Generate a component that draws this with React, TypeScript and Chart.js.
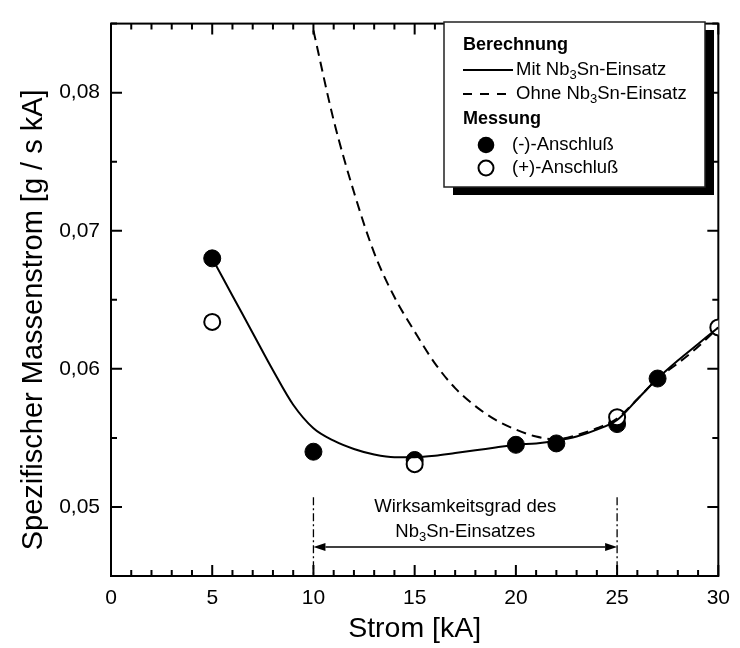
import React, { useEffect, useRef } from 'react';
import { Chart, registerables } from 'chart.js';

Chart.register(...registerables);

// ---------- data ----------
const X_MIT = [5, 6, 7, 8, 9, 10, 11, 12, 13, 14, 15, 16, 17, 18, 19, 20, 21, 22, 23, 24, 25, 26, 27, 28, 29, 30];
const Y_MIT = [0.068, 0.0653, 0.0626, 0.0599, 0.0574, 0.0557, 0.0548, 0.0542, 0.0538, 0.0536, 0.0536, 0.0537, 0.0539, 0.0541, 0.0543, 0.0545, 0.0546, 0.0548, 0.0551, 0.0556, 0.0563, 0.0578, 0.0593, 0.0606, 0.0618, 0.063];

const X_OHNE = [10, 11, 12, 13, 14, 15, 16, 17, 18, 19, 20, 21, 22, 23, 24, 25, 26, 27, 28, 29, 30];
const Y_OHNE = [0.0845, 0.078, 0.0728, 0.0684, 0.0652, 0.0627, 0.0604, 0.0586, 0.0573, 0.0563, 0.0556, 0.0551, 0.0549, 0.0552, 0.0557, 0.0564, 0.0578, 0.0593, 0.0604, 0.0616, 0.063];

const X_NEG = [5, 10, 15, 20, 22, 25, 27];
const Y_NEG = [0.068, 0.054, 0.0534, 0.0545, 0.0546, 0.056, 0.0593];

const X_POS = [5, 15, 25, 30];
const Y_POS = [0.0634, 0.0531, 0.0565, 0.063];

const X_TICKS = [0, 5, 10, 15, 20, 25, 30];
const Y_TICKS = [0.05, 0.06, 0.07, 0.08];
const X_MINOR_STEP = 1;
const Y_MINOR_STEP = 0.005;
const X_RANGE = [0, 30];
const Y_RANGE = [0.045, 0.085];

const X_TITLE = 'Strom [kA]';
const Y_TITLE = 'Spezifischer Massenstrom [g / s kA]';

// annotation "Wirksamkeitsgrad" range
const EFF_RANGE = [10, 25];
const EFF_LINE_TOP = 0.0507;
const EFF_ARROW_Y = 0.0471;
const EFF_TEXT1_Y = 0.05;
const EFF_TEXT2_Y = 0.0482;

const FONT = '"Liberation Sans", Arial, Helvetica, sans-serif';

type Part = { t: string; sub?: boolean };

function drawRich(ctx: CanvasRenderingContext2D, parts: Part[], x: number, y: number, align: 'left' | 'center', size: number, bold = false) {
  const main = `${bold ? 'bold ' : ''}${size}px ${FONT}`;
  const sub = `${bold ? 'bold ' : ''}${Math.round(size * 0.68)}px ${FONT}`;
  let total = 0;
  const widths = parts.map((p) => {
    ctx.font = p.sub ? sub : main;
    const w = ctx.measureText(p.t).width;
    total += w;
    return w;
  });
  let cx = align === 'center' ? x - total / 2 : x;
  ctx.textAlign = 'left';
  ctx.textBaseline = 'middle';
  ctx.fillStyle = '#000';
  parts.forEach((p, i) => {
    ctx.font = p.sub ? sub : main;
    ctx.fillText(p.t, cx, p.sub ? y + size * 0.32 : y);
    cx += widths[i];
  });
}

const framePlugin = {
  id: 'frameTicks',
  beforeDatasetsDraw(chart: any) {
    const { ctx, chartArea, scales } = chart;
    const { left, right, top, bottom } = chartArea;
    const xs = scales.x;
    const ys = scales.y;
    ctx.save();
    ctx.strokeStyle = '#000';
    ctx.lineWidth = 2;
    ctx.beginPath();
    const nx = Math.round((X_RANGE[1] - X_RANGE[0]) / X_MINOR_STEP);
    for (let i = 0; i <= nx; i++) {
      const v = X_RANGE[0] + i * X_MINOR_STEP;
      const px = xs.getPixelForValue(v);
      const major = X_TICKS.some((t) => Math.abs(t - v) < 1e-9);
      const len = major ? 11 : 6;
      ctx.moveTo(px, bottom);
      ctx.lineTo(px, bottom - len);
      ctx.moveTo(px, top);
      ctx.lineTo(px, top + len);
    }
    const ny = Math.round((Y_RANGE[1] - Y_RANGE[0]) / Y_MINOR_STEP);
    for (let i = 0; i <= ny; i++) {
      const v = Y_RANGE[0] + i * Y_MINOR_STEP;
      const py = ys.getPixelForValue(v);
      const major = Y_TICKS.some((t) => Math.abs(t - v) < 1e-9);
      const len = major ? 11 : 6;
      ctx.moveTo(left, py);
      ctx.lineTo(left + len, py);
      ctx.moveTo(right, py);
      ctx.lineTo(right - len, py);
    }
    ctx.stroke();
    ctx.strokeRect(left, top, right - left, bottom - top);

    // y axis title (rotated)
    ctx.save();
    ctx.translate(34, (top + bottom) / 2 + 20);
    ctx.rotate(-Math.PI / 2);
    ctx.font = `29px ${FONT}`;
    ctx.fillStyle = '#000';
    ctx.textAlign = 'center';
    ctx.textBaseline = 'middle';
    ctx.fillText(Y_TITLE, 0, 0);
    ctx.restore();
    ctx.restore();
  },
};

const annotationPlugin = {
  id: 'effAnnotation',
  afterDatasetsDraw(chart: any) {
    const { ctx, chartArea, scales } = chart;
    const xs = scales.x;
    const ys = scales.y;
    const x1 = xs.getPixelForValue(EFF_RANGE[0]);
    const x2 = xs.getPixelForValue(EFF_RANGE[1]);
    const yTop = ys.getPixelForValue(EFF_LINE_TOP);
    const yArrow = ys.getPixelForValue(EFF_ARROW_Y);
    ctx.save();
    ctx.strokeStyle = '#000';
    ctx.lineWidth = 1.3;
    ctx.setLineDash([8, 3, 2, 3]);
    ctx.beginPath();
    ctx.moveTo(x1, yTop);
    ctx.lineTo(x1, chartArea.bottom);
    ctx.moveTo(x2, yTop);
    ctx.lineTo(x2, chartArea.bottom);
    ctx.stroke();
    ctx.setLineDash([]);
    ctx.lineWidth = 1.5;
    const ah = 12;
    const aw = 4;
    ctx.beginPath();
    ctx.moveTo(x1 + ah, yArrow);
    ctx.lineTo(x2 - ah, yArrow);
    ctx.stroke();
    ctx.fillStyle = '#000';
    ctx.beginPath();
    ctx.moveTo(x1, yArrow);
    ctx.lineTo(x1 + ah, yArrow - aw);
    ctx.lineTo(x1 + ah, yArrow + aw);
    ctx.closePath();
    ctx.fill();
    ctx.beginPath();
    ctx.moveTo(x2, yArrow);
    ctx.lineTo(x2 - ah, yArrow - aw);
    ctx.lineTo(x2 - ah, yArrow + aw);
    ctx.closePath();
    ctx.fill();
    const cx = (x1 + x2) / 2;
    drawRich(ctx, [{ t: 'Wirksamkeitsgrad des' }], cx, ys.getPixelForValue(EFF_TEXT1_Y), 'center', 18.5);
    drawRich(ctx, [{ t: 'Nb' }, { t: '3', sub: true }, { t: 'Sn-Einsatzes' }], cx, ys.getPixelForValue(EFF_TEXT2_Y), 'center', 18.5);
    ctx.restore();
  },
};

const legendPlugin = {
  id: 'customLegend',
  afterDraw(chart: any) {
    const { ctx } = chart;
    const bx = 444, by = 22, bw = 261, bh = 165;
    ctx.save();
    ctx.fillStyle = '#000';
    ctx.fillRect(bx + 9, by + 8, bw, bh);
    ctx.fillStyle = '#fff';
    ctx.fillRect(bx, by, bw, bh);
    ctx.strokeStyle = '#222';
    ctx.lineWidth = 1.5;
    ctx.strokeRect(bx, by, bw, bh);
    const tx = 463;
    const fs = 18.5;
    drawRich(ctx, [{ t: 'Berechnung' }], tx, 45, 'left', 18, true);
    ctx.strokeStyle = '#000';
    ctx.lineWidth = 2;
    ctx.beginPath();
    ctx.moveTo(tx, 70);
    ctx.lineTo(tx + 50, 70);
    ctx.stroke();
    drawRich(ctx, [{ t: 'Mit Nb' }, { t: '3', sub: true }, { t: 'Sn-Einsatz' }], 516, 70, 'left', fs);
    ctx.setLineDash([9, 8]);
    ctx.beginPath();
    ctx.moveTo(tx, 94);
    ctx.lineTo(tx + 48, 94);
    ctx.stroke();
    ctx.setLineDash([]);
    drawRich(ctx, [{ t: 'Ohne Nb' }, { t: '3', sub: true }, { t: 'Sn-Einsatz' }], 516, 94, 'left', fs);
    drawRich(ctx, [{ t: 'Messung' }], tx, 119, 'left', 18, true);
    ctx.fillStyle = '#000';
    ctx.beginPath();
    ctx.arc(486, 145, 8.3, 0, Math.PI * 2);
    ctx.fill();
    drawRich(ctx, [{ t: '(-)-Anschluß' }], 512, 145, 'left', fs);
    ctx.fillStyle = '#fff';
    ctx.lineWidth = 2;
    ctx.beginPath();
    ctx.arc(486, 168, 7.5, 0, Math.PI * 2);
    ctx.fill();
    ctx.stroke();
    drawRich(ctx, [{ t: '(+)-Anschluß' }], 512, 168, 'left', fs);
    ctx.restore();
  },
};

const pts = (xs: number[], ys: number[]) => xs.map((x, i) => ({ x, y: ys[i] }));

export default function App() {
  const ref = useRef<HTMLCanvasElement | null>(null);
  useEffect(() => {
    if (!ref.current) return;
    const chart = new Chart(ref.current, {
      type: 'scatter',
      data: {
        datasets: [
          {
            label: 'Mit Nb3Sn-Einsatz',
            data: pts(X_MIT, Y_MIT),
            showLine: true,
            borderColor: '#000',
            borderWidth: 2,
            pointRadius: 0,
            cubicInterpolationMode: 'monotone',
            order: 0,
          },
          {
            label: 'Ohne Nb3Sn-Einsatz',
            data: pts(X_OHNE, Y_OHNE),
            showLine: true,
            borderColor: '#000',
            borderWidth: 2,
            borderDash: [10, 6],
            pointRadius: 0,
            cubicInterpolationMode: 'monotone',
            order: 0,
          },
          {
            label: '(+)-Anschluß',
            data: pts(X_POS, Y_POS),
            showLine: false,
            pointRadius: 8,
            pointBorderWidth: 2,
            pointBackgroundColor: '#fff',
            pointBorderColor: '#000',
            order: 1,
          },
          {
            label: '(-)-Anschluß',
            data: pts(X_NEG, Y_NEG),
            showLine: false,
            pointRadius: 8.5,
            pointBorderWidth: 1,
            pointBackgroundColor: '#000',
            pointBorderColor: '#000',
            order: 2,
          },
        ],
      } as any,
      options: {
        responsive: false,
        animation: false,
        layout: { padding: { left: 0, right: 11, top: 12, bottom: 0 } },
        plugins: { legend: { display: false }, tooltip: { enabled: false } },
        scales: {
          x: {
            type: 'linear',
            min: X_RANGE[0],
            max: X_RANGE[1],
            afterBuildTicks: (s: any) => {
              s.ticks = X_TICKS.map((v) => ({ value: v }));
            },
            afterFit: (s: any) => {
              s.height = 72;
            },
            ticks: {
              color: '#000',
              font: { family: FONT, size: 21 },
              padding: 10,
              maxRotation: 0,
              autoSkip: false,
            },
            grid: { display: false, drawTicks: false },
            border: { display: false },
            title: {
              display: true,
              text: X_TITLE,
              color: '#000',
              font: { family: FONT, size: 28.5 },
              padding: { top: 0, bottom: 2 },
            },
          },
          y: {
            type: 'linear',
            min: Y_RANGE[0],
            max: Y_RANGE[1],
            afterBuildTicks: (s: any) => {
              s.ticks = Y_TICKS.map((v) => ({ value: v }));
            },
            afterFit: (s: any) => {
              s.width = 111;
            },
            ticks: {
              color: '#000',
              font: { family: FONT, size: 21 },
              padding: 11,
              callback: (v: any) => Number(v).toFixed(2).replace('.', ','),
            },
            grid: { display: false, drawTicks: false },
            border: { display: false },
            title: { display: false },
          },
        },
      } as any,
      plugins: [framePlugin, annotationPlugin, legendPlugin],
    });
    return () => chart.destroy();
  }, []);
  return (
    <div style={{ position: 'fixed', left: 0, top: 0, width: 740, height: 648, background: '#fff' }}>
      <canvas ref={ref} width={740} height={648} />
    </div>
  );
}
